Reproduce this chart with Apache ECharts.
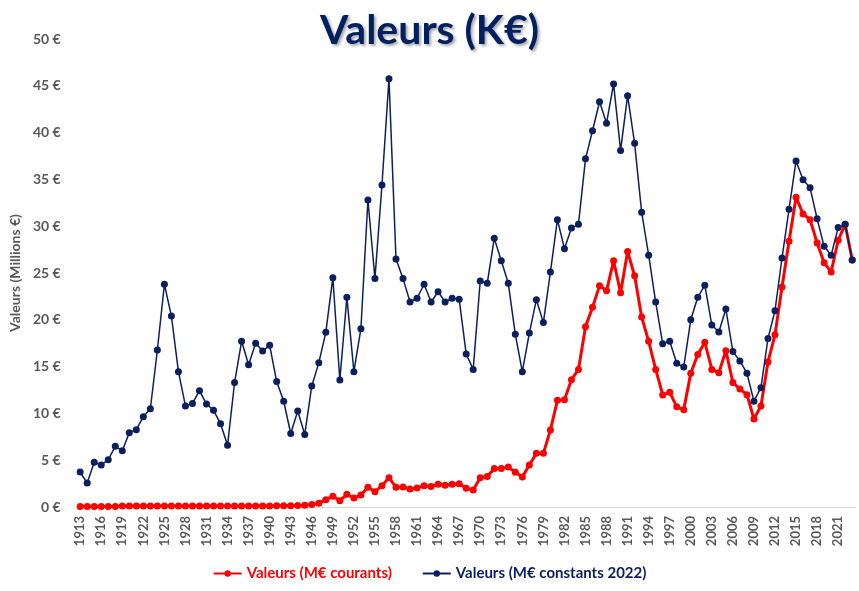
<!DOCTYPE html>
<html>
<head>
<meta charset="utf-8">
<script src="https://cdn.jsdelivr.net/npm/echarts@6/dist/echarts.min.js"></script>
<style>html,body{margin:0;padding:0;background:#fff}#c{width:859px;height:591px}</style>
</head>
<body>
<div id="c"></div>
<script>
var years = [];
for (var y = 1913; y <= 2023; y++) years.push(String(y));

var courants = [
  0.05,0.05,0.05,0.05,0.05,0.05,0.1,0.12,0.12,0.12,
  0.12,0.12,0.12,0.12,0.12,0.12,0.12,0.12,0.12,0.12,
  0.12,0.12,0.12,0.12,0.12,0.12,0.12,0.12,0.13,0.14,
  0.14,0.15,0.18,0.28,0.39,0.78,1.14,0.68,1.35,0.96,
  1.28,2.1,1.64,2.28,3.13,2.1,2.14,1.92,2.03,2.28,
  2.2,2.42,2.32,2.42,2.49,2.0,1.82,3.13,3.27,4.1,
  4.1,4.27,3.7,3.2,4.49,5.73,5.73,8.23,11.4,11.47,
  13.6,14.7,19.27,21.33,23.65,23.1,26.3,22.9,27.3,24.7,
  20.3,17.7,14.7,11.97,12.25,10.7,10.4,14.3,16.3,17.6,
  14.7,14.35,16.7,13.3,12.6,12.0,9.4,10.8,15.5,18.4,
  23.5,28.4,33.1,31.3,30.7,28.2,26.1,25.1,28.5,30.2,
  26.4
];

var constants = [
  3.74,2.56,4.77,4.49,5.06,6.48,6.02,7.94,8.26,9.65,
  10.5,16.77,23.8,20.4,14.46,10.8,11.07,12.43,11.0,10.33,
  8.9,6.59,13.3,17.7,15.2,17.5,16.67,17.27,13.4,11.3,
  7.85,10.25,7.75,12.93,15.4,18.66,24.5,13.57,22.4,14.46,
  19.05,32.8,24.4,34.4,45.76,26.5,24.4,21.9,22.3,23.8,
  21.9,23.0,21.9,22.3,22.2,16.35,14.7,24.15,23.9,28.7,
  26.3,23.9,18.45,14.46,18.58,22.15,19.7,25.1,30.7,27.6,
  29.8,30.2,37.2,40.2,43.3,41.0,45.2,38.1,43.95,38.85,
  31.5,26.9,21.9,17.45,17.7,15.35,14.96,20.0,22.4,23.7,
  19.44,18.7,21.15,16.6,15.6,14.3,11.3,12.75,18.0,20.97,
  26.6,31.8,36.97,34.97,34.1,30.8,27.85,26.9,29.85,30.2,
  26.4
];

var yTicks = [0, 5, 10, 15, 20, 25, 30, 35, 40, 45, 50];

var RED = '#ff0000';
var NAVY = '#0b1f5e';
var GRAY = '#595959';
var FONT = 'Lato, "Open Sans", sans-serif';

var chart = echarts.init(document.getElementById('c'), null, {renderer: 'canvas'});
chart.setOption({
  animation: false,
  backgroundColor: '#fff',
  title: {
    text: 'Valeurs (K€)',
    left: 'center',
    top: 5,
    textStyle: {
      fontFamily: FONT, fontWeight: 'bold', fontSize: 41, color: '#002060',
      textShadowColor: 'rgba(0,0,0,0.35)', textShadowBlur: 3, textShadowOffsetX: 2, textShadowOffsetY: 2
    }
  },
  legend: {
    bottom: 5,
    left: 'center',
    itemGap: 30,
    itemWidth: 28,
    itemHeight: 8,
    textStyle: {fontFamily: FONT, fontWeight: 'bold', fontSize: 15},
    data: [
      {name: 'Valeurs (M€ courants)', textStyle: {color: RED}},
      {name: 'Valeurs (M€ constants 2022)', textStyle: {color: NAVY}}
    ]
  },
  grid: {left: 76.5, right: 3.3, top: 39, bottom: 84, containLabel: false},
  xAxis: {
    type: 'category',
    data: years,
    boundaryGap: true,
    axisLine: {lineStyle: {color: '#d9d9d9', width: 1}},
    axisTick: {show: false},
    axisLabel: {
      interval: 2, rotate: 90, color: GRAY, fontFamily: FONT, fontWeight: 'bold', fontSize: 13, margin: 9
    }
  },
  yAxis: {
    type: 'value',
    min: yTicks[0],
    max: yTicks[yTicks.length - 1],
    interval: 5,
    name: 'Valeurs (Millions €)',
    nameLocation: 'middle',
    nameGap: 46,
    nameTextStyle: {color: GRAY, fontFamily: FONT, fontWeight: 'bold', fontSize: 14},
    axisLine: {show: false},
    axisTick: {show: false},
    splitLine: {show: false},
    axisLabel: {
      color: GRAY, fontFamily: FONT, fontWeight: 'bold', fontSize: 14, margin: 16,
      formatter: function (v) { return v + ' €'; }
    }
  },
  series: [
    {
      name: 'Valeurs (M€ courants)',
      type: 'line',
      data: courants,
      symbol: 'circle',
      symbolSize: 7,
      showAllSymbol: true,
      lineStyle: {color: RED, width: 3},
      itemStyle: {color: RED},
      z: 2
    },
    {
      name: 'Valeurs (M€ constants 2022)',
      type: 'line',
      data: constants,
      symbol: 'circle',
      symbolSize: 7,
      showAllSymbol: true,
      lineStyle: {color: NAVY, width: 1.5},
      itemStyle: {color: NAVY},
      z: 3
    }
  ]
});
</script>
</body>
</html>
